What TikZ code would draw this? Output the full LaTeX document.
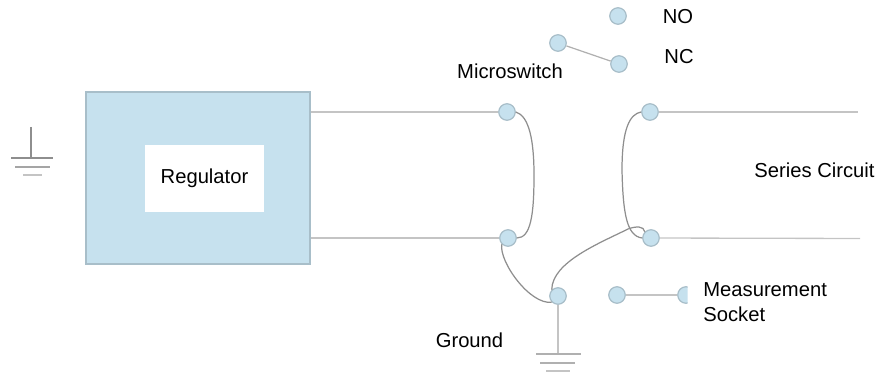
\documentclass[tikz,border=0pt]{standalone}
\usepackage{fontspec}
\setmainfont{Liberation Sans}
\usepackage{xcolor}
\definecolor{PaleBlue}{HTML}{C6E1EE}
\definecolor{RimBlue}{HTML}{A8BEC9}
\definecolor{WireGrey}{HTML}{C4C4C4}
\definecolor{LeadGrey}{HTML}{8E8E8E}
\tikzset{
    terminal/.style={circle,draw=RimBlue,fill=PaleBlue,line width=0.7pt,minimum size=0.33cm,inner sep=0pt},
    wire/.style={draw=WireGrey,line width=0.75pt},
    lead/.style={draw=LeadGrey,line width=0.7pt},
    caption/.style={text=black,font=\fontsize{11.5}{13}\selectfont,inner sep=0pt}
}

\begin{document}
\begin{tikzpicture}[x=0.02cm,y=-0.02cm]
    \useasboundingbox (0,0) rectangle (881,377);

    % regulator block
    \node[draw=RimBlue,fill=PaleBlue,line width=0.8pt,minimum width=4.48cm,minimum height=3.44cm,inner sep=0pt] (regulator) at (198,178) {};
    \node[fill=white,minimum width=2.38cm,minimum height=1.34cm,inner sep=0pt,caption] (regtext) at (204.5,178.5) {Regulator};

    % terminals
    \node[terminal] (topleft) at (507,112) {};
    \node[terminal] (topright) at (650,112) {};
    \node[terminal] (botleft) at (508,238) {};
    \node[terminal] (botright) at (651,238) {};
    \node[terminal] (common) at (558,43) {};
    \node[terminal] (contactno) at (618,16) {};
    \node[terminal] (contactnc) at (619,64) {};
    \node[terminal] (earth) at (558,296) {};
    \node[terminal] (sockleft) at (617,295) {};
    \begin{scope}
        \clip (670,280) rectangle (687.5,310);
        \node[terminal] (sockright) at (686,295) {};
    \end{scope}

    % free ends
    \coordinate (endtop) at (858,112);
    \coordinate (endbot) at (860,238.5);
    \coordinate (leftgnd) at (31,127);
    \coordinate (leftbar) at (31,158);
    \coordinate (rightbar) at (558,354);

    % straight wires
    \draw[wire] (regulator.east |- topleft) -- (topleft);
    \draw[wire] (regulator.east |- botleft) -- (botleft);
    \draw[wire] (topright) -- (endtop);
    \draw[wire] (botright) -- (endbot);
    \draw[wire] (sockleft) -- (sockright.west);
    \draw[wire] (earth) -- (rightbar);
    \draw[lead,draw=LeadGrey!70] (common) -- (contactnc);

    % curved leads
    \draw[lead] (topleft.east) .. controls (529,116) and (534,140) .. (534,175) .. controls (534,214) and (531,238) .. (botleft.east);
    \draw[lead] (topright.west) .. controls (630,114) and (622,128) .. (622,170) .. controls (623,215) and (627,236) .. (botright.west);
    \draw[lead] (botleft.south west) .. controls (499,262) and (530,305) .. (earth.south west);
    \draw[lead] (earth.north west) .. controls (552,262) and (600,243) .. (628,229) .. controls (636,226) and (644,226) .. (botright.north west);

    % ground symbols
    \draw[lead] (leftgnd) -- (leftbar);
    \draw[wire,draw=LeadGrey] (leftbar) ++(-20,0) -- ++(42,0);
    \draw[wire,draw=LeadGrey!80] (leftbar) ++(-16,9) -- ++(35,0);
    \draw[wire] (leftbar) ++(-8,17) -- ++(19,0);
    \draw[wire,draw=LeadGrey!70] (rightbar) ++(-22,0) -- ++(45,0);
    \draw[wire,draw=LeadGrey!70] (rightbar) ++(-18,9) -- ++(35,0);
    \draw[wire] (rightbar) ++(-12,17) -- ++(24,0);

    % labels
    \node[caption] (labelno) at (678,17) {NO};
    \node[caption] (labelnc) at (679,57) {NC};
    \node[caption] (labelswitch) at (510,71) {Microswitch};
    \node[caption] (labelseries) at (814.5,170) {Series Circuit};
    \node[caption] (labelground) at (469.5,340) {Ground};
    \node[caption,align=left,anchor=west,font=\fontsize{11.5}{14}\selectfont] (labelsocket) at (703,302) {Measurement\\Socket};
\end{tikzpicture}
\end{document}
